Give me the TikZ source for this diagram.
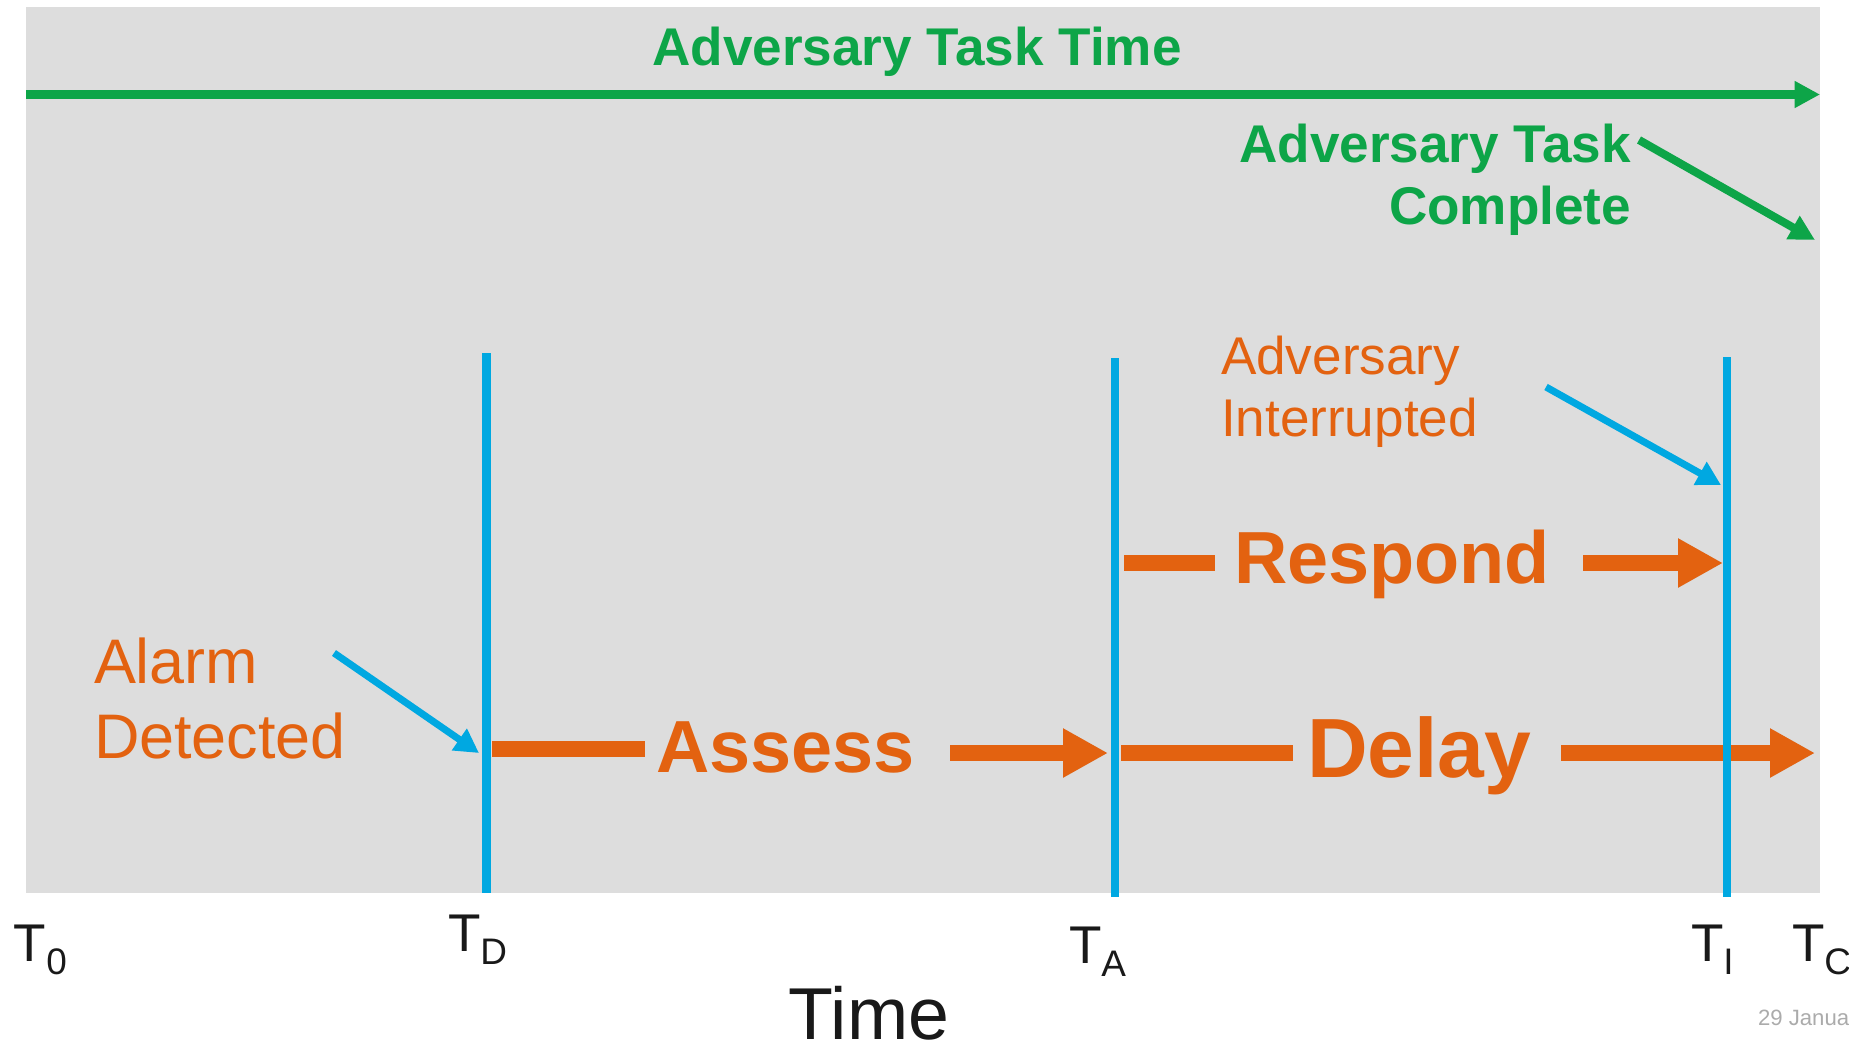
\documentclass[tikz,border=0pt]{standalone}
\usepackage{fontspec}
\setmainfont{Liberation Sans}
\usetikzlibrary{arrows.meta}

\definecolor{bggray}{HTML}{DDDDDD}
\definecolor{taskgreen}{HTML}{0DA548}
\definecolor{alarmorange}{HTML}{E36210}
\definecolor{lineblue}{HTML}{00A8E1}
\definecolor{shadegray}{HTML}{B4B4B4}
\definecolor{dategray}{HTML}{ABABAB}

\newcommand{\tsub}[1]{\raisebox{-3.8pt}{\fontsize{10.5}{12}\selectfont #1}}

\begin{document}
\begin{tikzpicture}[x=0.01cm,y=-0.01cm,
		every node/.style={inner sep=0pt,outer sep=0pt},
		green label/.style={text=taskgreen,font=\fontsize{15.1}{17.6}\selectfont\bfseries},
		note label/.style={text=alarmorange},
		phase label/.style={text=alarmorange,font=\fontsize{21}{25}\selectfont\bfseries,anchor=base west},
		tick label/.style={text=black!90,font=\fontsize{15.1}{18}\selectfont,anchor=base west},
		green arrow/.style={taskgreen,line width=2.3pt,-{Triangle[length=7.2pt,width=7.2pt]}},
		blue arrow/.style={lineblue,line width=2pt,-{Triangle[length=6.8pt,width=7.1pt]}},
		time line/.style={lineblue,line width=2.3pt},
		phase bar/.style={alarmorange,line width=4.55pt},
		phase arrow/.style={phase bar,-{Triangle[length=12.8pt,width=13.1pt]}},
		bar shadow/.style={shadegray,line width=4.55pt,shift={(6,6)}},
		arrow shadow/.style={bar shadow,-{Triangle[length=12.8pt,width=13.1pt,color=shadegray!40!bggray]}}]

	\useasboundingbox (0,0) rectangle (1849,1045);
	\fill[bggray] (26,7) rectangle (1820,893);

	% time markers
	\coordinate (td top) at (486.5,353);
	\coordinate (td bot) at (486.5,893);
	\coordinate (ta top) at (1115,358);
	\coordinate (ta bot) at (1115,897);
	\coordinate (ti top) at (1727,357);
	\coordinate (ti bot) at (1727,897);

	% overall task time
	\coordinate (start) at (26,94.5);
	\coordinate (end) at (1820,94.5);
	\node[green label,anchor=base] (title) at (917,65) {Adversary Task Time};
	\draw[green arrow] (start) -- (end);

	\node[green label,align=right,anchor=base east] (complete) at (1631,224) {Adversary Task\\Complete};
	\coordinate (complete tail) at (1639,140);
	\coordinate (complete tip) at (1815,240);
	\draw[green arrow] (complete tail) -- (complete tip);

	% phases
	\node[phase label] (assess) at (656,772) {Assess};
	\node[phase label] (respond) at (1234,583) {Respond};
	\node[phase label,font=\fontsize{23.9}{28}\selectfont\bfseries] (delay) at (1307,777) {Delay};

	\coordinate (a1) at (492,749);
	\coordinate (a2) at (645,749);
	\coordinate (a3) at (950,753);
	\coordinate (a4) at (1108,753);
	\coordinate (d1) at (1121,753);
	\coordinate (d2) at (1293,753);
	\coordinate (d3) at (1561,753);
	\coordinate (d4) at (1815,753);
	\coordinate (r1) at (1124,563);
	\coordinate (r2) at (1215,563);
	\coordinate (r3) at (1583,563);
	\coordinate (r4) at (1723,563);

	\draw[bar shadow] (a1) -- (a2);
	\draw[arrow shadow] (a3) -- (a4);
	\draw[bar shadow] (d1) -- (d2);
	\draw[arrow shadow] (d3) -- (d4);
	\draw[bar shadow] (r1) -- (r2);
	\draw[arrow shadow] (r3) -- (r4);

	\draw[phase bar] (a1) -- (a2);
	\draw[phase arrow] (a3) -- (a4);
	\draw[phase bar] (d1) -- (d2);
	\draw[phase arrow] (d3) -- (d4);
	\draw[phase bar] (r1) -- (r2);
	\draw[phase arrow] (r3) -- (r4);

	\draw[time line] (td top) -- (td bot);
	\draw[time line] (ta top) -- (ta bot);
	\draw[time line] (ti top) -- (ti bot);

	% events
	\node[note label,align=left,anchor=base west,font=\fontsize{17.9}{21.3}\selectfont] (alarm) at (94,758) {Alarm\\Detected};
	\coordinate (alarm tail) at (334,653);
	\coordinate (alarm tip) at (479,753);
	\draw[blue arrow] (alarm tail) -- (alarm tip);

	\node[note label,align=left,anchor=base west,font=\fontsize{15.1}{17.4}\selectfont] (stop) at (1221,436) {Adversary\\Interrupted};
	\coordinate (stop tail) at (1546,387);
	\coordinate (stop tip) at (1721,485);
	\draw[blue arrow] (stop tail) -- (stop tip);

	% axis
	\node[tick label] (t0) at (14,961) {T\tsub{0}};
	\node[tick label] (tdl) at (448,951) {T\tsub{D}};
	\node[tick label] (tal) at (1069,963) {T\tsub{A}};
	\node[tick label] (til) at (1691,961) {T\tsub{I}};
	\node[tick label] (tcl) at (1792,961) {T\tsub{C}};
	\node[text=black!90,font=\fontsize{20.9}{24}\selectfont,anchor=base,text depth=0pt] (time) at (869,1039) {Time};
	\node[text=dategray,font=\fontsize{6.3}{7}\selectfont,anchor=base west] (date) at (1758,1025) {29 January};
\end{tikzpicture}
\end{document}
